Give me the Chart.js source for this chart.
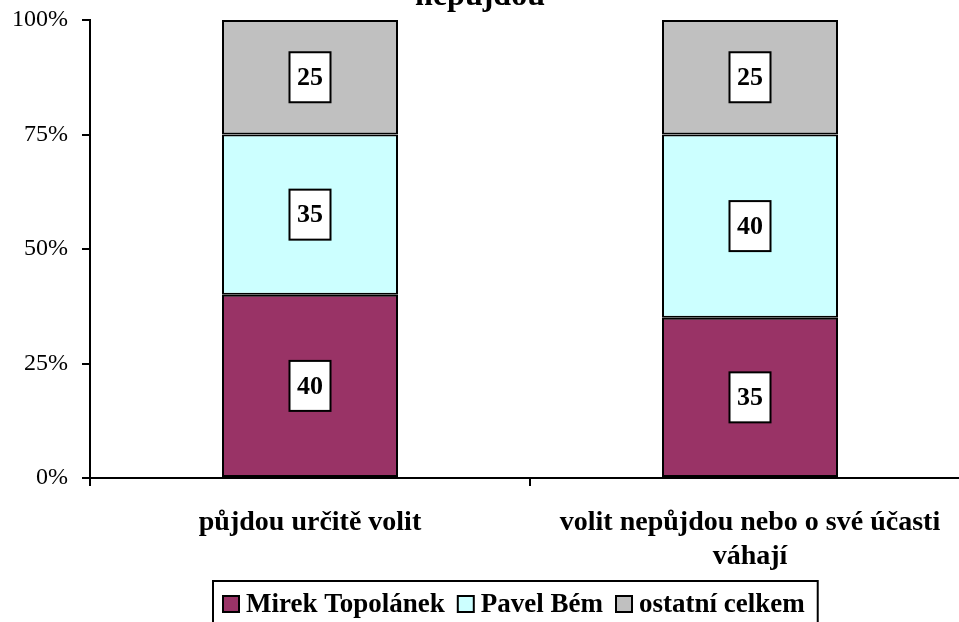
<!DOCTYPE html>
<html>
<head>
<meta charset="utf-8">
<script src="https://cdn.jsdelivr.net/npm/chart.js@4/dist/chart.umd.min.js"></script>
<style>
html,body{margin:0;padding:0;background:#fff;overflow:hidden;}
#wrap{width:959px;height:622px;overflow:hidden;position:relative;}
canvas{display:block;}
</style>
</head>
<body>
<div id="wrap"><canvas id="c" width="980" height="622"></canvas></div>
<script>
const categories = [["půjdou určitě volit"], ["volit nepůjdou nebo o své účasti", "váhají"]];
const seriesNames = ["Mirek Topolánek", "Pavel Bém", "ostatní celkem"];
const topolanek = [40, 35];
const bem = [35, 40];
const ostatni = [25, 25];
const yTicks = [0, 25, 50, 75, 100];
const titleText = "nepůjdou";

const colors = ["#993366", "#CCFFFF", "#C0C0C0"];
const FONT = "'Liberation Serif', 'Times New Roman', serif";

const labelPlugin = {
  id: 'segLabels',
  afterDatasetsDraw(chart) {
    const ctx = chart.ctx;
    ctx.save();
    ctx.font = "bold 26px " + FONT;
    ctx.textAlign = 'center';
    ctx.textBaseline = 'middle';
    chart.data.datasets.forEach((ds, di) => {
      const meta = chart.getDatasetMeta(di);
      meta.data.forEach((el, i) => {
        const v = ds.data[i];
        const txt = String(v);
        const cx = el.x;
        const cy = (el.y + el.base) / 2;
        const w = ctx.measureText(txt).width + 15;
        const h = 50;
        ctx.fillStyle = '#fff';
        ctx.fillRect(cx - w / 2, cy - h / 2, w, h);
        ctx.strokeStyle = '#000';
        ctx.lineWidth = 2;
        ctx.strokeRect(cx - w / 2, cy - h / 2, w, h);
        ctx.fillStyle = '#000';
        ctx.fillText(txt, cx, cy + 1);
      });
    });
    ctx.restore();
  },
  afterDraw(chart) {
    const ctx = chart.ctx;
    ctx.save();
    // title (top clipped)
    ctx.font = "bold 32px " + FONT;
    ctx.fillStyle = '#000';
    ctx.textAlign = 'center';
    ctx.textBaseline = 'alphabetic';
    ctx.fillText(titleText, 480, 5);
    // legend
    ctx.font = "bold 27px " + FONT;
    ctx.textAlign = 'left';
    const boxL = 213, boxT = 581;
    let x = boxL + 10;
    const sw = 16, swTop = 596, baseline = 612;
    seriesNames.forEach((n, i) => {
      ctx.fillStyle = colors[i];
      ctx.fillRect(x, swTop, sw, sw);
      ctx.strokeStyle = '#000';
      ctx.lineWidth = 2;
      ctx.strokeRect(x, swTop, sw, sw);
      x += sw + 7;
      ctx.fillStyle = '#000';
      ctx.fillText(n, x, baseline);
      x += ctx.measureText(n).width + 13;
    });
    const boxR = x;
    ctx.strokeStyle = '#000';
    ctx.lineWidth = 2;
    ctx.strokeRect(boxL, boxT, boxR - boxL, 60);
    ctx.restore();
  }
};

new Chart(document.getElementById('c'), {
  type: 'bar',
  data: {
    labels: categories,
    datasets: [
      { label: seriesNames[0], data: topolanek, backgroundColor: colors[0] },
      { label: seriesNames[1], data: bem, backgroundColor: colors[1] },
      { label: seriesNames[2], data: ostatni, backgroundColor: colors[2] }
    ].map(d => Object.assign(d, { borderColor: '#000', borderWidth: 2, borderSkipped: false, categoryPercentage: 1, barPercentage: 0.4 }))
  },
  options: {
    responsive: false,
    animation: false,
    devicePixelRatio: 1,
    layout: { padding: { top: 20, right: 10, bottom: 0, left: 0 } },
    plugins: { legend: { display: false }, title: { display: false }, tooltip: { enabled: false } },
    scales: {
      x: {
        stacked: true,
        grid: { display: true, offset: true, drawOnChartArea: false, drawTicks: true, tickLength: 8, color: '#000', lineWidth: 2 },
        border: { display: true, color: '#000', width: 2 },
        ticks: { color: '#000', font: { family: FONT, size: 28, weight: 'bold', lineHeight: 1.22 }, padding: 20, maxRotation: 0, autoSkip: false },
        afterFit(s) { s.height = 144; s.paddingLeft = 0; s.paddingRight = 0; }
      },
      y: {
        stacked: true,
        min: 0, max: 100,
        afterBuildTicks(s) { s.ticks = yTicks.map(v => ({ value: v })); },
        grid: { display: true, drawOnChartArea: false, drawTicks: true, tickLength: 8, color: '#000', lineWidth: 2 },
        border: { display: true, color: '#000', width: 2 },
        ticks: { color: '#000', font: { family: FONT, size: 24, lineHeight: 1 }, padding: 14, callback: v => v + '%' },
        afterFit(s) { s.width = 90; s.paddingTop = 0; s.paddingBottom = 0; }
      }
    }
  },
  plugins: [labelPlugin]
});
</script>
</body>
</html>
